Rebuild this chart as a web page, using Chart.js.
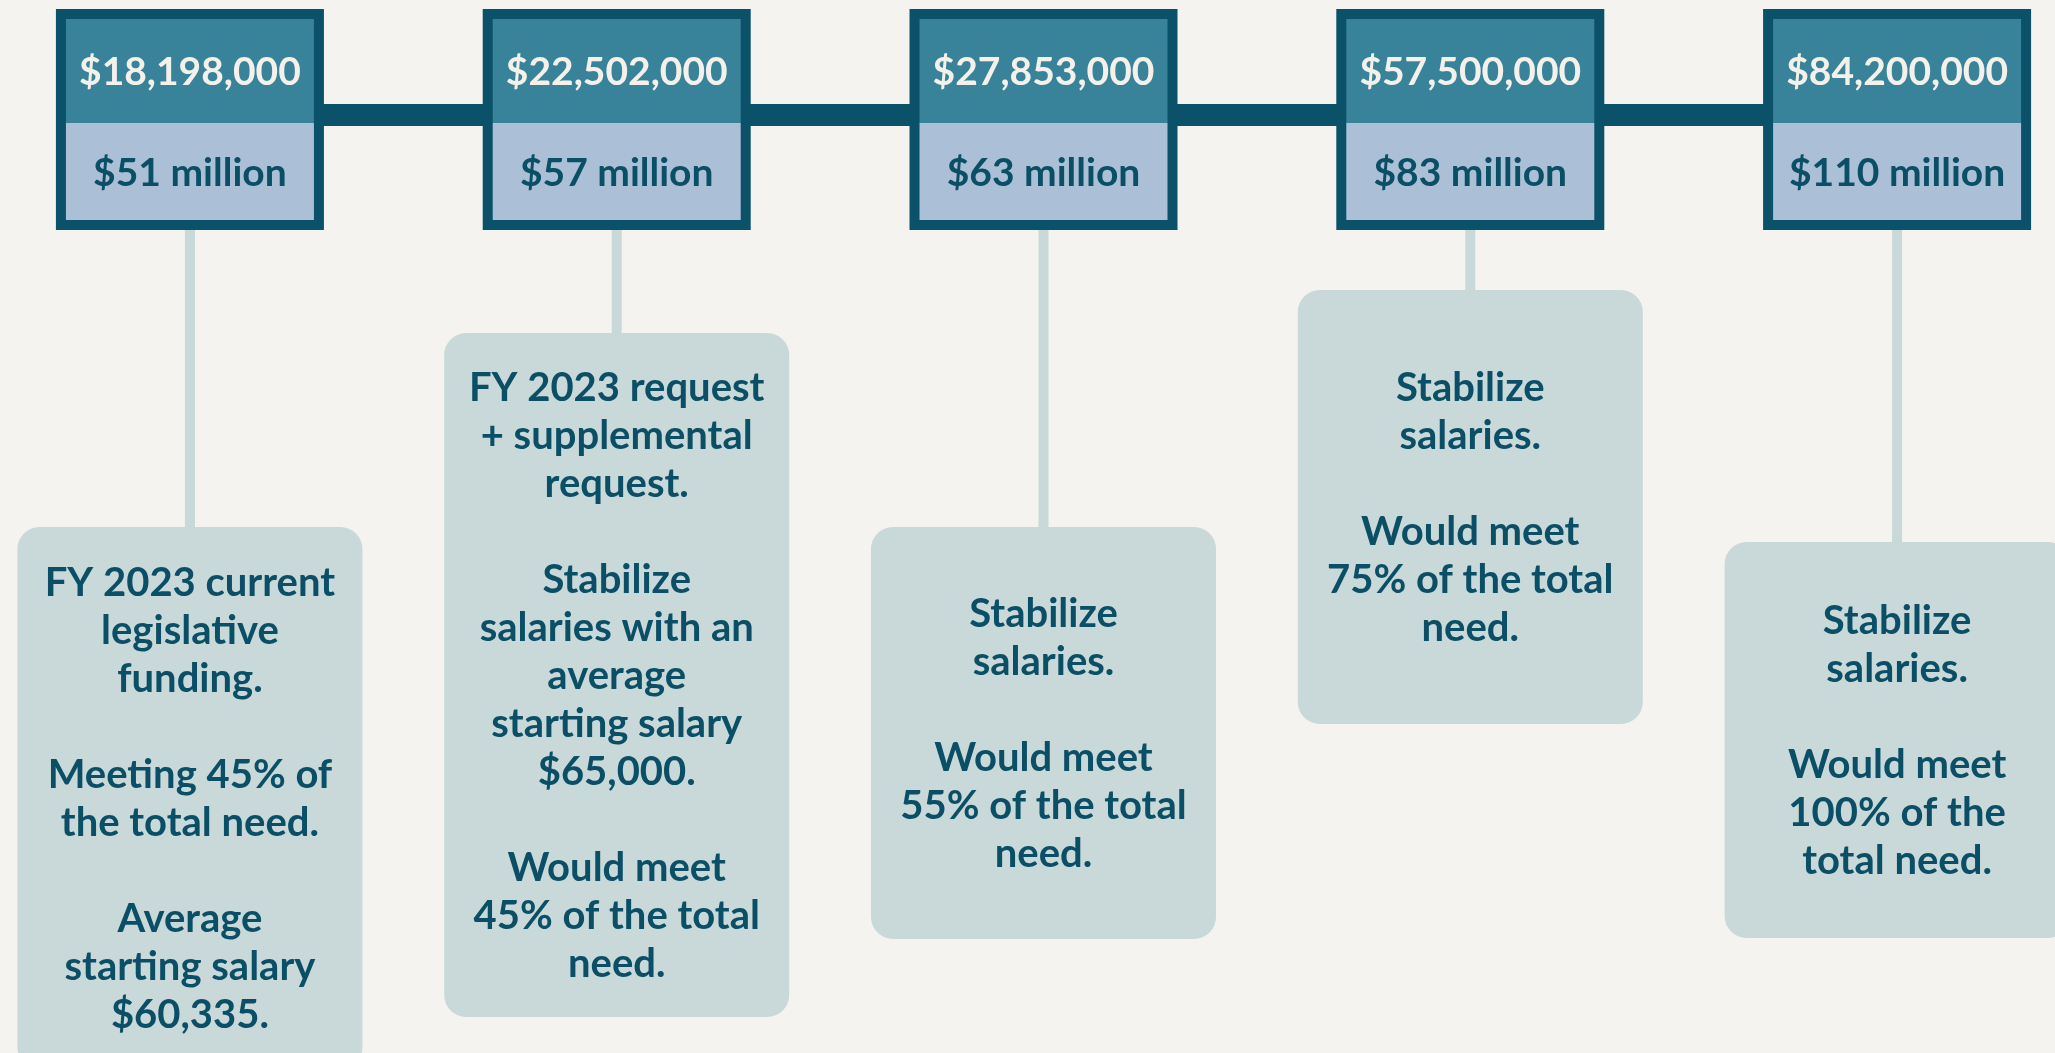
<!DOCTYPE html>
<html>
<head>
<meta charset="utf-8">
<script src="https://cdn.jsdelivr.net/npm/chart.js@4.4.1/dist/chart.umd.min.js"></script>
<style>
    html, body { margin: 0; padding: 0; background: #f4f3ef; }
    #wrap { width: 2055px; height: 1053px; position: relative; }
</style>
</head>
<body>
<div id="wrap"><canvas id="timeline"></canvas></div>
<script>
// --- DONNEES ---
const amountValues = [18198000, 22502000, 27853000, 57500000, 84200000];
const totalMillions = [51, 57, 63, 83, 110];
const descriptions = [
    ["FY 2023 current", "legislative", "funding.", "", "Meeting 45% of", "the total need.", "", "Average", "starting salary", "$60,335."],
    ["FY 2023 request", "+ supplemental", "request.", "", "Stabilize", "salaries with an", "average", "starting salary", "$65,000.", "", "Would meet", "45% of the total", "need."],
    ["Stabilize", "salaries.", "", "Would meet", "55% of the total", "need."],
    ["Stabilize", "salaries.", "", "Would meet", "75% of the total", "need."],
    ["Stabilize", "salaries.", "", "Would meet", "100% of the", "total need."]
];

// --- MISE EN PAGE (unités de l'axe y = pixels) ---
const layout = {
    boxTop: 9, boxSplit: 123, boxBottom: 230, boxW: 268, border: 10,
    lineY: 115, lineW: 22,
    descW: 345, radius: 22, lineH: 48, stemW: 10,
    descTop: [527, 333, 527, 290, 542],
    descBottom: [1069, 1017, 939, 724, 938]
};

const colors = {
    border: '#0b5169', header: '#38829a', body: '#abbfd6',
    card: '#c9d8d8', text: '#0b4f66', light: '#f4f1ea'
};

// Dessin des cartes, des tiges et des étiquettes
const timelinePlugin = {
    id: 'timeline',
    afterDatasetsDraw(chart) {
        const { ctx, scales: { x, y } } = chart;
        ctx.save();
        ctx.textAlign = 'center';
        ctx.textBaseline = 'alphabetic';

        amountValues.forEach((v, i) => {
            const cx = x.getPixelForValue(i);
            const bt = y.getPixelForValue(layout.boxTop);
            const bs = y.getPixelForValue(layout.boxSplit);
            const bb = y.getPixelForValue(layout.boxBottom);
            const dt = y.getPixelForValue(layout.descTop[i]);
            const db = y.getPixelForValue(layout.descBottom[i]);

            // tige
            ctx.fillStyle = colors.card;
            ctx.fillRect(cx - layout.stemW / 2, bb, layout.stemW, dt - bb + 2);

            // carte de description
            ctx.beginPath();
            ctx.roundRect(cx - layout.descW / 2, dt, layout.descW, db - dt, layout.radius);
            ctx.fill();

            const lines = descriptions[i];
            const mid = (dt + db) / 2;
            ctx.fillStyle = colors.text;
            ctx.font = '700 40px Lato';
            lines.forEach((ln, k) => {
                if (!ln) return;
                const cy = mid + (k - (lines.length - 1) / 2) * layout.lineH;
                ctx.fillText(ln, cx, cy + 14);
            });

            // boîte du haut
            const left = cx - layout.boxW / 2;
            const b = layout.border;
            ctx.fillStyle = colors.border;
            ctx.fillRect(left, bt, layout.boxW, bb - bt);
            ctx.fillStyle = colors.header;
            ctx.fillRect(left + b, bt + b, layout.boxW - 2 * b, bs - bt - b);
            ctx.fillStyle = colors.body;
            ctx.fillRect(left + b, bs, layout.boxW - 2 * b, bb - bs - b);

            ctx.font = '700 39px Lato';
            ctx.fillStyle = colors.light;
            ctx.fillText('$' + v.toLocaleString('en-US'), cx, (bt + b + bs) / 2 + 14);
            ctx.fillStyle = colors.text;
            ctx.fillText('$' + totalMillions[i] + ' million', cx, (bs + bb - b) / 2 + 14);
        });
        ctx.restore();
    }
};

function init() {
    const ctx = document.getElementById('timeline');
    new Chart(ctx, {
        type: 'scatter',
        data: {
            datasets: [{
                data: amountValues.map((_, i) => ({ x: i, y: layout.lineY })),
                showLine: true,
                borderColor: colors.border,
                borderWidth: layout.lineW,
                pointRadius: 0,
                clip: false
            }]
        },
        options: {
            responsive: true,
            maintainAspectRatio: false,
            animation: false,
            layout: { padding: 0 },
            scales: {
                x: { type: 'linear', min: -0.445, max: 4.37, display: false },
                y: { type: 'linear', min: 0, max: 1053, reverse: true, display: false }
            },
            plugins: {
                legend: { display: false },
                tooltip: { enabled: false }
            }
        },
        plugins: [timelinePlugin]
    });
}

document.fonts.load('700 40px Lato').then(init, init);
</script>
</body>
</html>
